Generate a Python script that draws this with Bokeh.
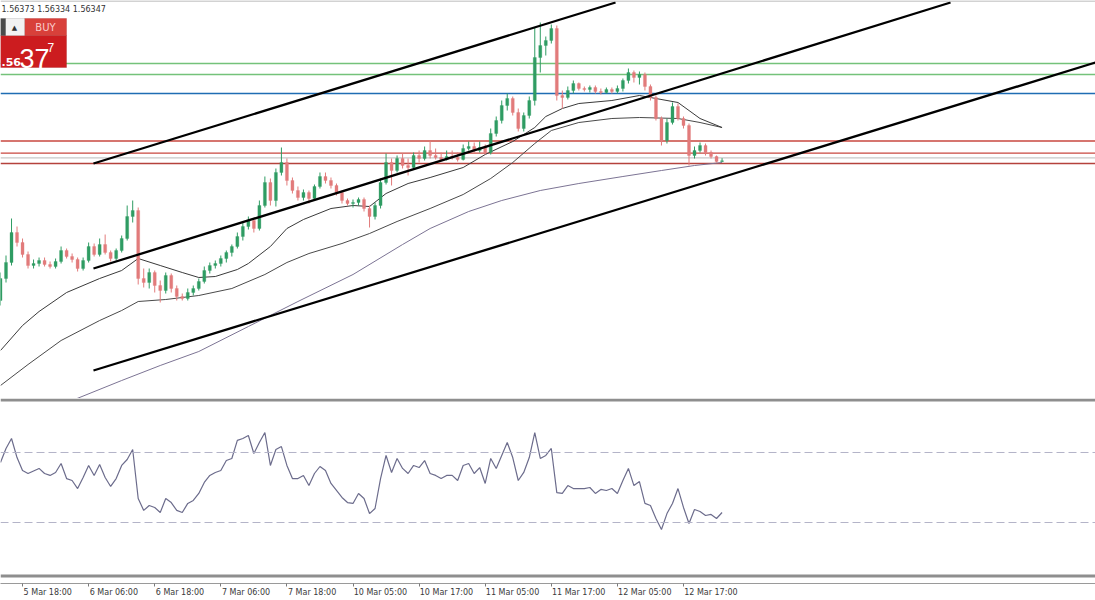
from bokeh.plotting import figure
from bokeh.models import (Range1d, Span, Label, BoxAnnotation, FixedTicker,
                          LinearAxis, ColumnDataSource)
from bokeh.layouts import column
from bokeh.embed import file_html
from bokeh.resources import INLINE

# ------------------------------------------------------------------ data
# hourly candles (bar 0 = 5 Mar 14:00), prices
opens = [1.5495, 1.5517, 1.5533, 1.5563, 1.5553, 1.5541, 1.5530, 1.5532, 1.5535, 1.5531,
         1.5529, 1.5534, 1.5545, 1.5539, 1.5536, 1.5527, 1.5535, 1.5549, 1.5541, 1.5551,
         1.5543, 1.5537, 1.5545, 1.5557, 1.5579, 1.5585, 1.5517, 1.5513, 1.5523, 1.5510,
         1.5505, 1.5520, 1.5507, 1.5499, 1.5497, 1.5503, 1.5507, 1.5514, 1.5525, 1.5530,
         1.5532, 1.5537, 1.5543, 1.5549, 1.5559, 1.5569, 1.5575, 1.5567, 1.5590, 1.5613,
         1.5595, 1.5623, 1.5633, 1.5615, 1.5605, 1.5598, 1.5603, 1.5597, 1.5609, 1.5619,
         1.5615, 1.5610, 1.5603, 1.5595, 1.5592, 1.5593, 1.5596, 1.5587, 1.5579, 1.5590,
         1.5613, 1.5633, 1.5625, 1.5637, 1.5630, 1.5628, 1.5640, 1.5637, 1.5645, 1.5640,
         1.5638, 1.5636, 1.5639, 1.5638, 1.5636, 1.5647, 1.5649, 1.5645, 1.5648, 1.5643,
         1.5662, 1.5675, 1.5690, 1.5697, 1.5683, 1.5667, 1.5680, 1.5695, 1.5738, 1.5750,
         1.5755, 1.5767, 1.5700, 1.5698, 1.5705, 1.5712, 1.5707, 1.5706, 1.5708, 1.5704,
         1.5703, 1.5706, 1.5704, 1.5707, 1.5715, 1.5723, 1.5718, 1.5721, 1.5709, 1.5698,
         1.5677, 1.5655, 1.5673, 1.5689, 1.5677, 1.5670, 1.5640, 1.5645, 1.5650, 1.5643,
         1.5639, 1.5634]
highs = [1.5523, 1.5540, 1.5577, 1.5569, 1.5557, 1.5544, 1.5536, 1.5538, 1.5538, 1.5534,
         1.5537, 1.5549, 1.5547, 1.5542, 1.5538, 1.5538, 1.5553, 1.5552, 1.5557, 1.5561,
         1.5545, 1.5547, 1.5560, 1.5590, 1.5595, 1.5588, 1.5527, 1.5527, 1.5525, 1.5515,
         1.5523, 1.5522, 1.5510, 1.5502, 1.5507, 1.5510, 1.5517, 1.5529, 1.5533, 1.5535,
         1.5540, 1.5545, 1.5551, 1.5563, 1.5573, 1.5579, 1.5577, 1.5595, 1.5619, 1.5617,
         1.5627, 1.5648, 1.5637, 1.5618, 1.5609, 1.5606, 1.5605, 1.5611, 1.5623, 1.5623,
         1.5618, 1.5612, 1.5605, 1.5597, 1.5596, 1.5598, 1.5598, 1.5590, 1.5593, 1.5617,
         1.5642, 1.5637, 1.5640, 1.5642, 1.5637, 1.5643, 1.5645, 1.5649, 1.5655, 1.5647,
         1.5643, 1.5645, 1.5645, 1.5643, 1.5651, 1.5654, 1.5653, 1.5654, 1.5651, 1.5667,
         1.5679, 1.5695, 1.5702, 1.5699, 1.5687, 1.5683, 1.5699, 1.5768, 1.5773, 1.5759,
         1.5771, 1.5770, 1.5705, 1.5709, 1.5715, 1.5713, 1.5709, 1.5710, 1.5710, 1.5707,
         1.5708, 1.5708, 1.5710, 1.5717, 1.5727, 1.5725, 1.5724, 1.5723, 1.5711, 1.5700,
         1.5679, 1.5677, 1.5693, 1.5692, 1.5679, 1.5672, 1.5649, 1.5653, 1.5652, 1.5645,
         1.5640, 1.56373]
lows = [1.5490, 1.5513, 1.5530, 1.5549, 1.5538, 1.5527, 1.5527, 1.5529, 1.5529, 1.5527,
        1.5527, 1.5532, 1.5537, 1.5533, 1.5524, 1.5525, 1.5533, 1.5539, 1.5539, 1.5541,
        1.5534, 1.5535, 1.5543, 1.5555, 1.5573, 1.5511, 1.5508, 1.5507, 1.5503, 1.5493,
        1.5502, 1.5503, 1.5495, 1.5495, 1.5495, 1.5500, 1.5505, 1.5512, 1.5522, 1.5527,
        1.5529, 1.5533, 1.5539, 1.5547, 1.5555, 1.5566, 1.5563, 1.5565, 1.5588, 1.5590,
        1.5589, 1.5620, 1.5610, 1.5602, 1.5595, 1.5595, 1.5592, 1.5595, 1.5607, 1.5612,
        1.5607, 1.5600, 1.5592, 1.5590, 1.5588, 1.5590, 1.5584, 1.5568, 1.5576, 1.5587,
        1.5611, 1.5610, 1.5623, 1.5627, 1.5620, 1.5626, 1.5633, 1.5635, 1.5637, 1.5636,
        1.5635, 1.5635, 1.5636, 1.5634, 1.5635, 1.5645, 1.5643, 1.5643, 1.5641, 1.5641,
        1.5659, 1.5672, 1.5685, 1.5680, 1.5664, 1.5664, 1.5677, 1.5690, 1.5723, 1.5740,
        1.5752, 1.5695, 1.5687, 1.5696, 1.5702, 1.5705, 1.5704, 1.5703, 1.5702, 1.5701,
        1.5702, 1.5702, 1.5702, 1.5704, 1.5712, 1.5713, 1.5711, 1.5705, 1.5695, 1.5675,
        1.5650, 1.5652, 1.5671, 1.5675, 1.5667, 1.5630, 1.5637, 1.5643, 1.5640, 1.5637,
        1.5633, 1.56334]
closes = [1.5517, 1.5533, 1.5563, 1.5553, 1.5541, 1.5530, 1.5532, 1.5535, 1.5531, 1.5529,
          1.5534, 1.5545, 1.5539, 1.5536, 1.5527, 1.5535, 1.5549, 1.5541, 1.5551, 1.5543,
          1.5537, 1.5545, 1.5557, 1.5579, 1.5585, 1.5517, 1.5513, 1.5523, 1.5510, 1.5505,
          1.5520, 1.5507, 1.5499, 1.5497, 1.5503, 1.5507, 1.5514, 1.5525, 1.5530, 1.5532,
          1.5537, 1.5543, 1.5549, 1.5559, 1.5569, 1.5575, 1.5567, 1.5590, 1.5613, 1.5595,
          1.5623, 1.5633, 1.5615, 1.5605, 1.5598, 1.5603, 1.5597, 1.5609, 1.5619, 1.5615,
          1.5610, 1.5603, 1.5595, 1.5592, 1.5593, 1.5596, 1.5587, 1.5579, 1.5590, 1.5613,
          1.5633, 1.5625, 1.5637, 1.5630, 1.5628, 1.5640, 1.5637, 1.5645, 1.5640, 1.5638,
          1.5636, 1.5639, 1.5638, 1.5636, 1.5647, 1.5649, 1.5645, 1.5648, 1.5643, 1.5662,
          1.5675, 1.5690, 1.5697, 1.5683, 1.5667, 1.5680, 1.5695, 1.5738, 1.5750, 1.5755,
          1.5767, 1.5700, 1.5698, 1.5705, 1.5712, 1.5707, 1.5706, 1.5708, 1.5704, 1.5703,
          1.5706, 1.5704, 1.5707, 1.5715, 1.5723, 1.5718, 1.5721, 1.5709, 1.5698, 1.5677,
          1.5655, 1.5673, 1.5689, 1.5677, 1.5670, 1.5640, 1.5645, 1.5650, 1.5643, 1.5639,
          1.5634, 1.56347]
bars = list(range(len(opens)))

# moving averages (bar, price)
ma_fast_bar = [0, 4, 7, 12, 18, 22, 25, 29, 33, 36, 39, 43, 45, 49, 52, 55, 60, 64, 67, 70,
               74, 78, 84, 88, 93, 97, 99, 102, 105, 111, 116, 119, 123, 127, 131]
ma_fast_val = [1.5445, 1.5470, 1.5484, 1.5503, 1.5517, 1.5525, 1.5537, 1.5530, 1.5523, 1.5518,
               1.5519, 1.5526, 1.5532, 1.5549, 1.5567, 1.5576, 1.5587, 1.5590, 1.5589, 1.5602,
               1.5612, 1.5618, 1.5628, 1.5641, 1.5654, 1.5668, 1.5679, 1.5687, 1.5692, 1.5695,
               1.5700, 1.5697, 1.5693, 1.5677, 1.5668]
ma_mid_bar = [0, 5, 11, 18, 22, 25, 30, 36, 42, 48, 52, 56, 62, 67, 72, 78, 84, 89, 93, 97,
              100, 105, 111, 116, 123, 127, 131]
ma_mid_val = [1.5410, 1.5431, 1.5455, 1.5475, 1.5485, 1.5494, 1.5496, 1.5500, 1.5507, 1.5521,
              1.5533, 1.5542, 1.5552, 1.5562, 1.5574, 1.5587, 1.5601, 1.5617, 1.5633, 1.5652,
              1.5665, 1.5673, 1.5677, 1.5678, 1.5677, 1.5673, 1.5668]
ma_slow_bar = [13, 22, 29, 36, 45, 54, 64, 73, 78, 85, 91, 98, 105, 113, 120, 126, 131]
ma_slow_val = [1.5395, 1.5415, 1.5430, 1.5444, 1.5469, 1.5494, 1.5521, 1.5551, 1.5567, 1.5584,
               1.5595, 1.5605, 1.5612, 1.5619, 1.5625, 1.5630, 1.5633]

# horizontal price levels
levels = [1.5732, 1.5721, 1.5702, 1.56545, 1.56423, 1.56377, 1.5632]
level_colors = ["#74c27a", "#74c27a", "#1f6db3", "#c9473f", "#c9473f", "#c8c8c8", "#b5423c"]

# channel trend lines: anchor points (bar, price)
chan_x0 = [16.88, 16.88, 16.88]
chan_y0 = [1.5632, 1.5527, 1.5425]
chan_x1 = [111.66, 172.48, 198.8]
chan_y1 = [1.5793, 1.5793, 1.5733]

# RSI (bar, value)
rsi_bar = [0, 1, 2, 3, 4, 5,
           7, 8, 9, 10, 11, 12, 13, 14, 15, 16,
           17, 18, 19, 20, 21, 22, 23, 24, 25, 26,
           27, 28, 29, 30, 31, 32, 33, 34, 35, 36,
           37, 38, 39, 40, 41, 42, 43, 44, 45, 46,
           47, 48, 49, 50, 51, 52, 53, 54, 55, 56,
           57, 58, 59, 60,
           62, 63, 64, 65, 66, 67, 68, 69, 70, 71,
           72, 73, 74, 75, 76, 77, 78, 79, 80, 81,
           82, 83, 84, 85, 86, 87, 88, 89, 90, 91,
           92, 93, 94, 95, 96, 97, 98, 99, 100, 101,
           102, 103, 104,
           106, 107, 108, 109, 110, 111, 112, 113, 114, 115,
           116, 117, 118, 119, 120, 121, 122, 123, 124, 125,
           126, 127, 128, 129, 130, 131]
rsi_val = [64.3, 72.3, 78.0, 67.1, 59.7, 58.0,
           60.9, 58.0, 56.9, 58.6, 63.7, 55.1, 54.0, 49.4, 55.7, 62.6,
           56.9, 63.1, 55.7, 50.6, 55.1, 62.6, 66.0, 71.7, 43.7, 36.9,
           39.7, 38.6, 35.7, 43.7, 41.4, 36.9, 35.7, 40.9, 42.6, 46.6,
           52.9, 56.9, 58.6, 59.7, 65.4, 66.6, 76.9, 78.0, 79.7, 69.4,
           75.7, 81.4, 62.6, 71.7, 73.4, 62.6, 55.1, 55.1, 56.9, 51.1,
           58.0, 62.0, 59.7, 52.3,
           44.3, 41.4, 40.9, 46.6, 43.7, 35.1, 38.0, 55.1, 68.3, 58.6,
           66.6, 60.9, 58.0, 62.6, 61.4, 65.4, 58.0, 56.9, 55.1, 56.9,
           56.9, 54.0, 62.6, 63.7, 58.0, 61.4, 52.3, 66.6, 60.9, 68.3,
           75.7, 67.1, 54.0, 58.6, 67.1, 81.4, 66.6, 68.3, 72.3, 47.1,
           46.6, 51.1, 49.4,
           49.4, 50.0, 46.6, 48.9, 48.3, 49.4, 46.6, 54.0, 60.9, 51.1,
           53.4, 40.9, 39.7, 32.3, 26.0, 35.1, 40.9, 49.4, 38.6, 29.4,
           37.4, 36.3, 34.0, 34.6, 32.3, 35.7]
rsi_levels = [70, 30]

# time axis
tick_bars = [4, 16, 28, 40, 52, 64, 76, 88, 100, 112, 124]
tick_labels = ["5 Mar 18:00", "6 Mar 06:00", "6 Mar 18:00", "7 Mar 06:00", "7 Mar 18:00",
               "10 Mar 05:00", "10 Mar 17:00", "11 Mar 05:00", "11 Mar 17:00",
               "12 Mar 05:00", "12 Mar 17:00"]

header_text = "1.56373 1.56334 1.56347"
ask_big, ask_prefix, ask_small = "37", ".56", "7"

# ------------------------------------------------------------------ style
W = 1095
PX_PER_BAR = 5.508
UP, DOWN = "#2f9c63", "#e27b7b"
FONT = "DejaVu Sans"

x_range = Range1d(0, W / PX_PER_BAR)

# ------------------------------------------------------------------ price panel
H = 398
p = figure(width=W, height=H, x_range=x_range, y_range=Range1d(1.5397, 1.5795),
           output_backend="svg", toolbar_location=None, min_border=0,
           x_axis_location=None, y_axis_location=None)
p.outline_line_color = None
p.xgrid.visible = False
p.ygrid.visible = False
p.background_fill_color = "white"
p.border_fill_color = "white"

p.add_layout(Span(location=1.57945, dimension="width", line_color="#a6a6a6", line_width=1))
for lv, col in zip(levels, level_colors):
    p.add_layout(Span(location=lv, dimension="width", line_color=col, line_width=1.3,
                      level="underlay"))

p.line(ma_slow_bar, ma_slow_val, line_color="#7c7494", line_width=1)
p.line(ma_mid_bar, ma_mid_val, line_color="#4a4a4a", line_width=1)
p.line(ma_fast_bar, ma_fast_val, line_color="#3a3a3a", line_width=1)


def candle_source(want_up):
    sel = [i for i in bars if (closes[i] >= opens[i]) == want_up]
    return ColumnDataSource(dict(
        x=[bars[i] for i in sel],
        high=[highs[i] for i in sel],
        low=[lows[i] for i in sel],
        top=[max(opens[i], closes[i]) for i in sel],
        bottom=[min(opens[i], closes[i]) for i in sel],
    ))


for want_up, colr in ((True, UP), (False, DOWN)):
    src = candle_source(want_up)
    p.segment(x0="x", y0="low", x1="x", y1="high", source=src, line_color=colr, line_width=1)
    p.vbar(x="x", width=0.55, top="top", bottom="bottom", source=src,
           fill_color=colr, line_color=colr, line_width=0.3)

p.segment(x0=chan_x0, y0=chan_y0, x1=chan_x1, y1=chan_y1, line_color="black", line_width=2.3)


def sbox(left, right, top, bottom, fill, line):
    # screen units; y measured upward from the frame bottom
    return BoxAnnotation(left=left, right=right, top=H - top, bottom=H - bottom,
                         left_units="screen", right_units="screen",
                         top_units="screen", bottom_units="screen",
                         fill_color=fill, fill_alpha=1, line_color=line, line_width=1)


p.add_layout(Label(x=1, y=H - 4, x_units="screen", y_units="screen", text=header_text,
                   text_baseline="top", text_align="left", text_font=FONT,
                   text_font_size="8px", text_color="#333333"))
p.add_layout(sbox(0, 66, 35, 67, "#cc1c1f", "#9e0e10"))
p.add_layout(sbox(24, 66, 18, 35, "#d8403a", "#a8191a"))
p.add_layout(sbox(5, 24, 18, 35, "#f2f2f2", "#a0a0a0"))
p.add_layout(sbox(0, 5, 18, 35, "#4a4a4a", "#4a4a4a"))
p.add_layout(Label(x=14, y=H - 27, x_units="screen", y_units="screen", text="\u25b2",
                   text_align="center", text_baseline="middle", text_font=FONT,
                   text_font_size="7px", text_color="#333333"))
p.add_layout(Label(x=45, y=H - 27, x_units="screen", y_units="screen", text="BUY",
                   text_align="center", text_baseline="middle", text_font=FONT,
                   text_font_size="10px", text_color="#f8caca"))
p.add_layout(Label(x=1, y=H - 61, x_units="screen", y_units="screen", text=ask_prefix,
                   text_align="left", text_baseline="alphabetic", text_font=FONT,
                   text_font_size="11px", text_font_style="bold", text_color="white"))
p.add_layout(Label(x=19, y=H - 58, x_units="screen", y_units="screen", text=ask_big,
                   text_align="left", text_baseline="alphabetic", text_font="Liberation Sans",
                   text_font_size="27px", text_color="white"))
p.add_layout(Label(x=47, y=H - 47, x_units="screen", y_units="screen", text=ask_small,
                   text_align="left", text_baseline="alphabetic", text_font="Liberation Sans",
                   text_font_size="12px", text_color="white"))

# ------------------------------------------------------------------ RSI panel + time axis
q = figure(width=W, height=202, x_range=x_range, y_range=Range1d(-4.857, 100.857),
           output_backend="svg", toolbar_location=None, min_border=0, min_border_bottom=17,
           x_axis_location=None, y_axis_location=None)
q.outline_line_color = None
q.xgrid.visible = False
q.ygrid.visible = False

q.add_layout(Span(location=100, dimension="width", line_color="#8e8e8e", line_width=3))
q.add_layout(Span(location=-0.57, dimension="width", line_color="#8e8e8e", line_width=3))
for lv in rsi_levels:
    q.add_layout(Span(location=lv, dimension="width", line_color="#b4b4c8", line_width=1,
                      line_dash="8 4"))
q.line(rsi_bar, rsi_val, line_color="#6c6c8c", line_width=1.2)

label_pos = [round(t + (1 + 2.2 * len(s)) / PX_PER_BAR, 2) for t, s in zip(tick_bars, tick_labels)]
ax = LinearAxis(ticker=FixedTicker(ticks=label_pos, minor_ticks=tick_bars),
                major_label_overrides={lp: s for lp, s in zip(label_pos, tick_labels)},
                axis_line_color="#9a9a9a", axis_line_width=1,
                major_tick_line_color=None, major_tick_in=0, major_tick_out=3,
                minor_tick_line_color="#7a7a7a", minor_tick_in=0, minor_tick_out=3,
                major_label_standoff=1, major_label_text_font=FONT,
                major_label_text_font_size="8px", major_label_text_color="#3a3a3a")
q.add_layout(ax, "below")

layout = column(p, q)
open("out.html", "w").write(file_html(layout, INLINE))
